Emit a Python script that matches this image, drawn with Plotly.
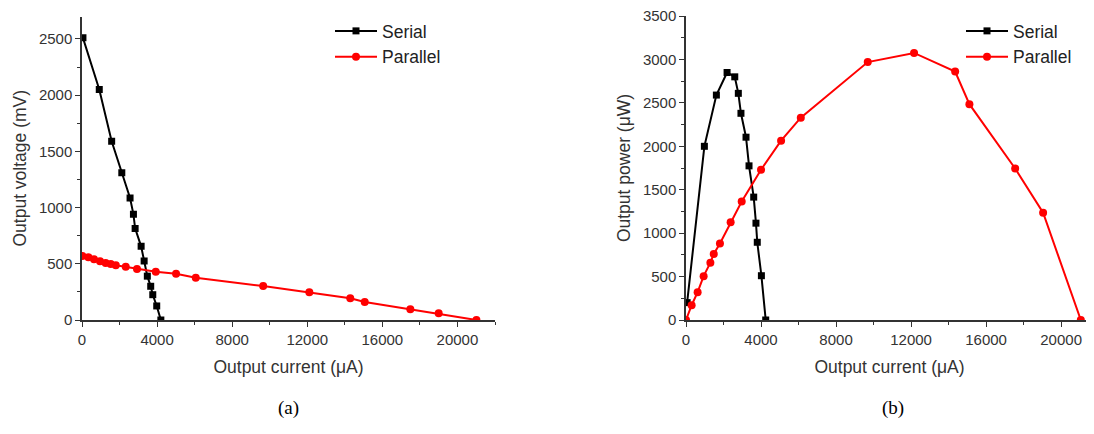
import plotly.graph_objects as go

# ---- Panel (a): output voltage vs output current ----
serial_current_a = [50, 920, 1580, 2120, 2560, 2740, 2830, 3150, 3310, 3480, 3660, 3770, 3980, 4200]
serial_voltage = [2510, 2050, 1590, 1310, 1085, 940, 815, 655, 525, 390, 300, 225, 125, 0]
parallel_current_a = [20, 340, 640, 960, 1260, 1530, 1800, 2330, 2930, 3930, 5010, 6060,
                      9650, 12110, 14290, 15060, 17490, 19000, 21010]
parallel_voltage = [570, 558, 540, 522, 507, 498, 487, 474, 454, 430, 412, 376,
                    302, 246, 193, 160, 95, 60, 0]

# ---- Panel (b): output power vs output current ----
serial_current_b = [60, 980, 1620, 2190, 2600, 2790, 2930, 3200, 3360, 3610, 3730, 3800, 4020, 4250]
serial_power = [200, 2000, 2590, 2850, 2800, 2610, 2380, 2105, 1775, 1415, 1115, 895, 510, 0]
parallel_current_b = [0, 300, 620, 940, 1300, 1480, 1810, 2380, 2970, 4000, 5070, 6120,
                      9690, 12160, 14350, 15110, 17550, 19040, 21050]
parallel_power = [0, 170, 320, 505, 660, 760, 880, 1125, 1365, 1730, 2065, 2330,
                  2970, 3075, 2860, 2485, 1745, 1235, 0]

x_ticks = [0, 4000, 8000, 12000, 16000, 20000]
x_tick_text = ["0", "4000", "8000", "12000", "16000", "20000"]
y_ticks_a = [0, 500, 1000, 1500, 2000, 2500]
y_ticks_b = [0, 500, 1000, 1500, 2000, 2500, 3000, 3500]

W, H = 1094, 434
OFF = 8  # page body margin
FONT = "Liberation Sans, Arial, sans-serif"
AX = "#333333"


def px(x):
    return (x - OFF) / W


def py(y):
    return 1 - (y - OFF) / H


fig = go.Figure()


def add_series(x, y, name, color, symbol, size, xa, ya, legend):
    fig.add_trace(go.Scatter(
        x=x, y=y, name=name, mode="lines+markers",
        line=dict(color=color, width=2),
        marker=dict(symbol=symbol, size=size, color=color),
        xaxis=xa, yaxis=ya, legend=legend, showlegend=True,
    ))


add_series(serial_current_a, serial_voltage, "Serial", "#000000", "square", 7, "x", "y", "legend")
add_series(parallel_current_a, parallel_voltage, "Parallel", "#ff0000", "circle", 8, "x", "y", "legend")
add_series(serial_current_b, serial_power, "Serial", "#000000", "square", 7, "x2", "y2", "legend2")
add_series(parallel_current_b, parallel_power, "Parallel", "#ff0000", "circle", 8, "x2", "y2", "legend2")

common_x = dict(
    showline=True, linecolor=AX, linewidth=1.5, ticks="outside", ticklen=5, tickwidth=1.2,
    tickcolor=AX, tickvals=x_ticks, ticktext=x_tick_text, showgrid=False, zeroline=False,
    tickfont=dict(family=FONT, size=15, color=AX), ticklabeloverflow="allow",
    minor=dict(dtick=2000, ticks="outside", ticklen=3, tickcolor=AX, tickwidth=1.2),
    title=dict(text="Output current (\u03bcA)", font=dict(family=FONT, size=17.5, color=AX), standoff=14),
    automargin=False,
)
common_y = dict(
    showline=True, linecolor=AX, linewidth=1.5, ticks="outside", ticklen=5, tickwidth=1.2,
    tickcolor=AX, showgrid=False, zeroline=False, ticklabeloverflow="allow",
    tickfont=dict(family=FONT, size=15, color=AX),
    minor=dict(dtick=250, ticks="outside", ticklen=3, tickcolor=AX, tickwidth=1.2),
    automargin=False,
)

legend_style = dict(xanchor="left", yanchor="top", bgcolor="rgba(0,0,0,0)",
                    font=dict(family=FONT, size=17.5, color="#222"),
                    tracegroupgap=0, itemwidth=42)

fig.update_layout(
    width=W, height=H,
    margin=dict(l=0, r=0, t=0, b=0),
    paper_bgcolor="white", plot_bgcolor="white",
    xaxis=dict(common_x, domain=[px(82), px(495)], range=[0, 22000], anchor="y"),
    yaxis=dict(common_y, domain=[py(320), py(16.5)], range=[0, 2700], anchor="x",
               tickvals=y_ticks_a, ticktext=[str(v) for v in y_ticks_a],
               title=dict(text="Output voltage (mV)", font=dict(family=FONT, size=17.5, color=AX), standoff=8)),
    xaxis2=dict(common_x, domain=[px(686), px(1093)], range=[0, 21700], anchor="y2"),
    yaxis2=dict(common_y, domain=[py(320), py(16)], range=[0, 3500.5], anchor="x2",
                tickvals=y_ticks_b, ticktext=[str(v) for v in y_ticks_b],
                title=dict(text="Output power (\u03bcW)", font=dict(family=FONT, size=17.5, color=AX), standoff=8)),
    legend=dict(legend_style, x=px(330), y=py(13)),
    legend2=dict(legend_style, x=px(961), y=py(13)),
    annotations=[
        dict(text="(a)", x=px(288), y=py(408), xref="paper", yref="paper", showarrow=False,
             xanchor="center", yanchor="middle",
             font=dict(family="Liberation Serif, Times New Roman, serif", size=19, color="black")),
        dict(text="(b)", x=px(893), y=py(408), xref="paper", yref="paper", showarrow=False,
             xanchor="center", yanchor="middle",
             font=dict(family="Liberation Serif, Times New Roman, serif", size=19, color="black")),
    ],
)

fig.write_html("out.html")
